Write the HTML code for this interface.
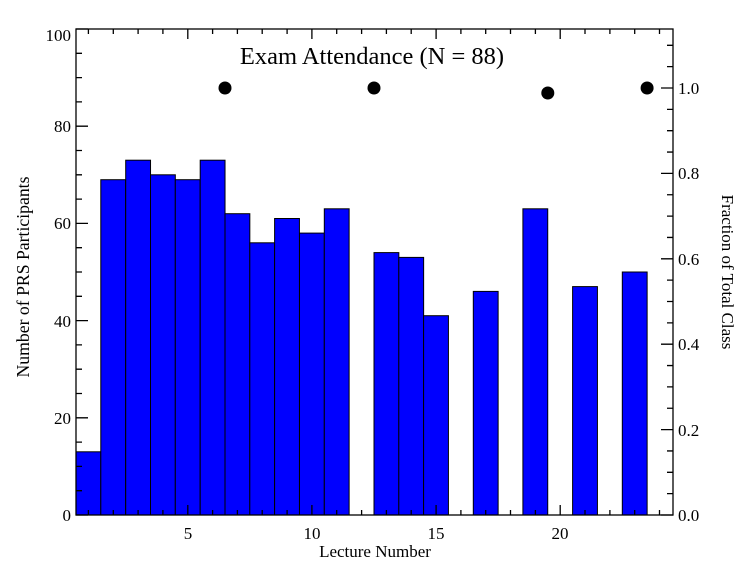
<!DOCTYPE html>
<html><head><meta charset="utf-8"><style>
html,body{margin:0;padding:0;background:#fff;}
svg{display:block;font-family:"Liberation Serif",serif;}
</style></head><body>
<svg width="750" height="576" viewBox="0 0 750 576" xmlns="http://www.w3.org/2000/svg">
<g fill="#0000ff" stroke="#000" stroke-width="1">
<rect x="76.0" y="451.8" width="24.83" height="63.2"/>
<rect x="100.8" y="179.7" width="24.83" height="335.3"/>
<rect x="125.7" y="160.2" width="24.83" height="354.8"/>
<rect x="150.5" y="174.8" width="24.83" height="340.2"/>
<rect x="175.3" y="179.7" width="24.83" height="335.3"/>
<rect x="200.2" y="160.2" width="24.83" height="354.8"/>
<rect x="225.0" y="213.7" width="24.83" height="301.3"/>
<rect x="249.8" y="242.8" width="24.83" height="272.2"/>
<rect x="274.6" y="218.5" width="24.83" height="296.5"/>
<rect x="299.5" y="233.1" width="24.83" height="281.9"/>
<rect x="324.3" y="208.8" width="24.83" height="306.2"/>
<rect x="374.0" y="252.6" width="24.83" height="262.4"/>
<rect x="398.8" y="257.4" width="24.83" height="257.6"/>
<rect x="423.6" y="315.7" width="24.83" height="199.3"/>
<rect x="473.3" y="291.4" width="24.83" height="223.6"/>
<rect x="522.9" y="208.8" width="24.83" height="306.2"/>
<rect x="572.6" y="286.6" width="24.83" height="228.4"/>
<rect x="622.3" y="272.0" width="24.83" height="243.0"/>
</g>
<g stroke="#000" stroke-width="1.3" fill="none">
<rect x="76" y="29" width="597" height="486"/>
<path d="M88.4 515v-5M113.3 515v-5M138.1 515v-5M162.9 515v-5M187.8 515v-10M212.6 515v-5M237.4 515v-5M262.2 515v-5M287.1 515v-5M311.9 515v-10M336.7 515v-5M361.6 515v-5M386.4 515v-5M411.2 515v-5M436.1 515v-10M460.9 515v-5M485.7 515v-5M510.5 515v-5M535.4 515v-5M560.2 515v-10M585.0 515v-5M609.9 515v-5M634.7 515v-5M659.5 515v-5"/>
<path d="M88.4 29v5M113.3 29v5M138.1 29v5M162.9 29v5M187.8 29v10M212.6 29v5M237.4 29v5M262.2 29v5M287.1 29v5M311.9 29v10M336.7 29v5M361.6 29v5M386.4 29v5M411.2 29v5M436.1 29v10M460.9 29v5M485.7 29v5M510.5 29v5M535.4 29v5M560.2 29v10M585.0 29v5M609.9 29v5M634.7 29v5M659.5 29v5"/>
<path d="M76 515h12M76 490.7h6M76 466.4h6M76 442.1h6M76 417.8h12M76 393.5h6M76 369.2h6M76 344.9h6M76 320.6h12M76 296.3h6M76 272h6M76 247.7h6M76 223.4h12M76 199.1h6M76 174.8h6M76 150.5h6M76 126.2h12M76 101.9h6M76 77.6h6M76 53.3h6M76 29h12"/>
<path d="M673 515h-12M673 493.65h-6M673 472.3h-6M673 450.95h-6M673 429.6h-12M673 408.25h-6M673 386.9h-6M673 365.55h-6M673 344.2h-12M673 322.85h-6M673 301.5h-6M673 280.15h-6M673 258.8h-12M673 237.45h-6M673 216.1h-6M673 194.75h-6M673 173.4h-12M673 152.05h-6M673 130.7h-6M673 109.35h-6M673 88h-12M673 66.65h-6M673 45.3h-6"/>
</g>
<g font-size="17" fill="#000">
<text x="188" y="539" text-anchor="middle">5</text>
<text x="312" y="539" text-anchor="middle">10</text>
<text x="436" y="539" text-anchor="middle">15</text>
<text x="560" y="539" text-anchor="middle">20</text>
<text x="71" y="521" text-anchor="end">0</text>
<text x="71" y="424" text-anchor="end">20</text>
<text x="71" y="327" text-anchor="end">40</text>
<text x="71" y="229" text-anchor="end">60</text>
<text x="71" y="132" text-anchor="end">80</text>
<text x="71" y="41" text-anchor="end">100</text>
<text x="678" y="521">0.0</text>
<text x="678" y="436">0.2</text>
<text x="678" y="350">0.4</text>
<text x="678" y="265">0.6</text>
<text x="678" y="179">0.8</text>
<text x="678" y="94">1.0</text>
</g>
<text x="372" y="64" font-size="24.5" text-anchor="middle">Exam Attendance (N = 88)</text>
<text x="375" y="557" font-size="17" text-anchor="middle">Lecture Number</text>
<text transform="translate(29,277) rotate(-90)" font-size="17.7" text-anchor="middle">Number of PRS Participants</text>
<text transform="translate(722,272) rotate(90)" font-size="17" text-anchor="middle">Fraction of Total Class</text>
<g fill="#000">
<circle cx="225.0" cy="88" r="6.5"/>
<circle cx="374.0" cy="88" r="6.5"/>
<circle cx="547.8" cy="93" r="6.5"/>
<circle cx="647.1" cy="88" r="6.5"/>
</g>
</svg>
</body></html>
